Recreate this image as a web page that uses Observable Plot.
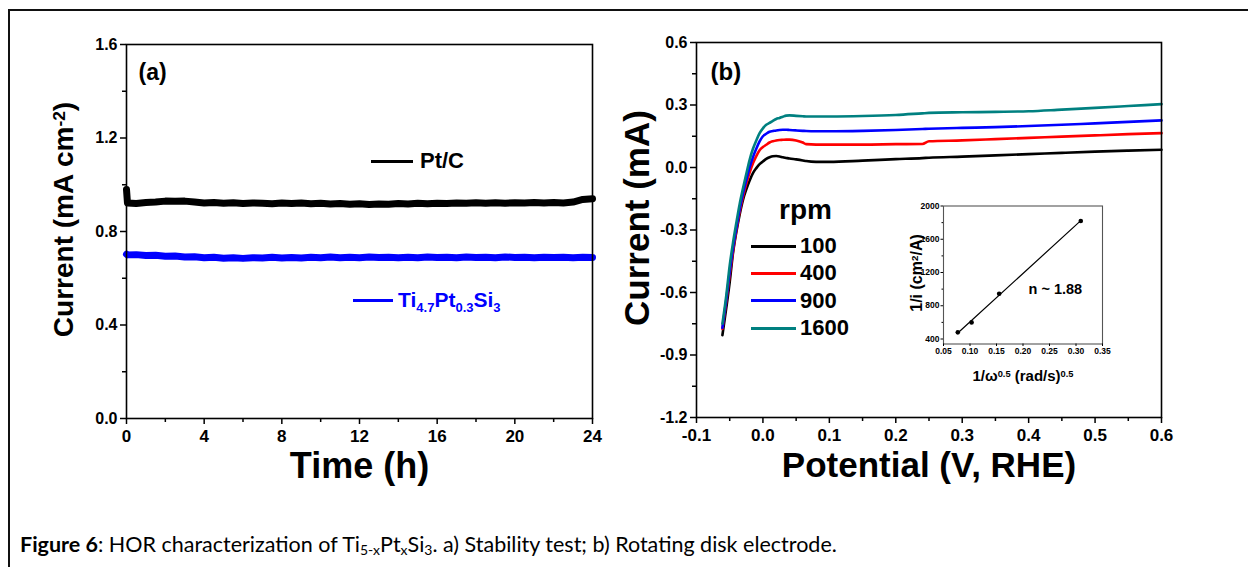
<!DOCTYPE html>
<html>
<head>
<meta charset="utf-8">
<script src="https://cdn.jsdelivr.net/npm/d3@7"></script>
<script src="https://cdn.jsdelivr.net/npm/@observablehq/plot@0.6"></script>
<style>
  body { margin: 0; background: #fff; }
  #fig { position: relative; width: 1248px; height: 567px; overflow: hidden; background: #fff;
         font-family: "Liberation Sans", Arial, sans-serif; }
  .abs { position: absolute; }
  .bt { left: 8px; top: 9px; width: 1240px; height: 2px; background: #111; }
  .bl { left: 8px; top: 9px; width: 2px; height: 560px; background: #111; }
  .leg { position: absolute; display: flex; align-items: center; font-weight: bold; white-space: nowrap; transform: translateY(-50%); }
  .sw { display: inline-block; height: 3px; margin-right: 5px; }
  .leg sub { font-size: 62%; vertical-align: -0.35em; line-height: 0; }
  #caption { position: absolute; left: 20px; top: 531px; font-family: Lato, "Open Sans", sans-serif; font-size: 21.5px; color: #000; white-space: nowrap; }
  #caption sub { font-size: 65%; vertical-align: -0.25em; line-height: 0; }
</style>
</head>
<body>
<div id="fig">
  <div class="abs bt"></div>
  <div class="abs bl"></div>
  <div id="pa" class="abs" style="left:0;top:0"></div>
  <div id="pb" class="abs" style="left:600px;top:0"></div>
  <div id="pi" class="abs" style="left:880px;top:190px"></div>
  <div id="legA"></div>
  <div id="legB"></div>
  <div id="caption"><b>Figure 6</b>: HOR characterization of Ti<sub>5-x</sub>Pt<sub>x</sub>Si<sub>3</sub>. a) Stability test; b) Rotating disk electrode.</div>
</div>
<script>
// ---------------- Panel (a): stability test ----------------
const timeH = [0, 0.05, 0.5, 1, 1.5, 2, 2.5, 3, 3.5, 4, 4.5, 5, 5.5, 6, 6.5, 7, 7.5, 8, 8.5, 9, 9.5, 10, 10.5, 11, 11.5, 12,
  12.5, 13, 13.5, 14, 14.5, 15, 15.5, 16, 16.5, 17, 17.5, 18, 18.5, 19, 19.5, 20, 20.5, 21, 21.5, 22, 22.5, 23, 23.5, 24];
const ptcCurrent = [0.98, 0.922, 0.92, 0.924, 0.926, 0.93, 0.929, 0.93, 0.926, 0.922, 0.924, 0.921, 0.923, 0.92, 0.922,
  0.921, 0.919, 0.922, 0.92, 0.922, 0.919, 0.921, 0.918, 0.92, 0.917, 0.919, 0.916, 0.918, 0.917, 0.92, 0.918, 0.921, 0.919,
  0.921, 0.92, 0.922, 0.921, 0.923, 0.921, 0.923, 0.921, 0.923, 0.922, 0.924, 0.922, 0.924, 0.922, 0.926, 0.937, 0.94];
const tiCurrent = [0.703, 0.70, 0.701, 0.697, 0.698, 0.694, 0.695, 0.691, 0.692, 0.688, 0.69, 0.686, 0.688, 0.685, 0.688,
  0.687, 0.69, 0.687, 0.689, 0.687, 0.69, 0.688, 0.691, 0.688, 0.69, 0.688, 0.691, 0.689, 0.69, 0.688, 0.69, 0.688, 0.691,
  0.689, 0.69, 0.688, 0.691, 0.689, 0.69, 0.688, 0.691, 0.689, 0.69, 0.688, 0.69, 0.689, 0.69, 0.688, 0.69, 0.689];
const seriesA = ["Pt/C", "Ti_{4.7}Pt_{0.3}Si_{3}"];
const colorsA = ["#000000", "#0000ff"];
const timeTicks = [0, 4, 8, 12, 16, 20, 24];
const timeMinor = [2, 6, 10, 14, 18, 22];
const curATicks = [0, 0.4, 0.8, 1.2, 1.6];
const curAMinor = [0.2, 0.6, 1.0, 1.4];

// ---------------- Panel (b): rotating disk electrode ----------------
const rpmLabels = ["100", "400", "900", "1600"];
const rpmColors = ["#000000", "#ff0000", "#0000ff", "#008080"];
const potential = [-0.061, -0.055, -0.05, -0.045, -0.04, -0.035, -0.03, -0.025, -0.02, -0.015, -0.01, -0.005, 0, 0.005,
  0.01, 0.015, 0.02, 0.025, 0.03, 0.035, 0.04, 0.05, 0.06, 0.065, 0.08, 0.1, 0.15, 0.2, 0.24, 0.25, 0.3, 0.35, 0.4, 0.45,
  0.5, 0.55, 0.6];
const current100 = [-0.805, -0.67, -0.55, -0.41, -0.31, -0.225, -0.155, -0.105, -0.063, -0.027, -0.003, 0.016, 0.029,
  0.041, 0.049, 0.054, 0.055, 0.053, 0.049, 0.046, 0.043, 0.039, 0.034, 0.031, 0.027, 0.027, 0.033, 0.04, 0.045, 0.047,
  0.052, 0.058, 0.064, 0.07, 0.076, 0.081, 0.085];
const current400 = [-0.775, -0.64, -0.515, -0.4, -0.3, -0.212, -0.14, -0.078, -0.025, 0.02, 0.055, 0.083, 0.098, 0.109,
  0.12, 0.126, 0.13, 0.132, 0.133, 0.134, 0.134, 0.13, 0.12, 0.112, 0.11, 0.11, 0.11, 0.112, 0.113, 0.126, 0.13, 0.136,
  0.142, 0.148, 0.154, 0.16, 0.165];
const current900 = [-0.77, -0.63, -0.5, -0.385, -0.29, -0.2, -0.125, -0.06, 0.0, 0.05, 0.09, 0.125, 0.15, 0.162, 0.172,
  0.175, 0.178, 0.18, 0.181, 0.181, 0.18, 0.178, 0.176, 0.175, 0.174, 0.174, 0.176, 0.18, 0.185, 0.186, 0.19, 0.194,
  0.199, 0.205, 0.212, 0.219, 0.226];
const current1600 = [-0.75, -0.61, -0.47, -0.36, -0.265, -0.175, -0.1, -0.03, 0.037, 0.09, 0.13, 0.165, 0.188, 0.205,
  0.214, 0.224, 0.233, 0.238, 0.244, 0.249, 0.25, 0.248, 0.246, 0.245, 0.245, 0.245, 0.247, 0.252, 0.26, 0.262, 0.265,
  0.267, 0.27, 0.278, 0.286, 0.295, 0.304];
const potTicks = [-0.1, 0, 0.1, 0.2, 0.3, 0.4, 0.5, 0.6];
const potMinor = [-0.05, 0.05, 0.15, 0.25, 0.35, 0.45, 0.55];
const curBTicks = [-1.2, -0.9, -0.6, -0.3, 0, 0.3, 0.6];
const curBMinor = [-1.05, -0.75, -0.45, -0.15, 0.15, 0.45];

// ---------------- Inset: Koutecky-Levich ----------------
const invOmega = [0.077, 0.103, 0.155, 0.309];
const invCurrent = [480, 600, 945, 1820];
const invOmegaTicks = [0.05, 0.10, 0.15, 0.20, 0.25, 0.30, 0.35];
const invCurTicks = [400, 800, 1200, 1600, 2000];
const invCurMinor = [600, 1000, 1400, 1800];
const nLabel = "n ~ 1.88";

// ------------- helpers -------------
const fmt = (k) => (d) => (d < 0 ? "-" : "") + Math.abs(d).toFixed(k);
function rich(svg) {
  d3.select(svg).selectAll("text").each(function () {
    const t = this.textContent;
    if (!/[\^_]\{/.test(t)) return;
    const parts = t.split(/([\^_]\{[^}]*\})/);
    const sel = d3.select(this);
    sel.text(null);
    for (const p of parts) {
      if (!p) continue;
      const m = p.match(/^([\^_])\{(.*)\}$/);
      if (m) sel.append("tspan").attr("font-size", "62%").attr("baseline-shift", m[1] === "^" ? "45%" : "-25%").text(m[2]);
      else sel.append("tspan").text(p);
    }
  });
  return svg;
}
const baseStyle = {fontFamily: "Liberation Sans, Arial, sans-serif", fontWeight: "bold", color: "#000", background: "transparent", overflow: "visible"};

// ------------- panel (a) -------------
const dataA = [];
timeH.forEach((t, i) => { dataA.push({t, c: ptcCurrent[i], s: seriesA[0]}); dataA.push({t, c: tiCurrent[i], s: seriesA[1]}); });
const plotA = Plot.plot({
  width: 620, height: 490, marginLeft: 126, marginRight: 28, marginTop: 44, marginBottom: 72,
  style: baseStyle,
  x: {domain: [0, 24], label: null},
  y: {domain: [0, 1.6], label: null},
  color: {domain: seriesA, range: colorsA},
  marks: [
    Plot.line(dataA, {x: "t", y: "c", z: "s", stroke: "s", strokeWidth: 7, curve: "linear"}),
    Plot.frame({strokeWidth: 1.6}),
    Plot.axisX(timeTicks, {tickSize: 6, tickPadding: 5, strokeWidth: 1.5, fontSize: 17, fontWeight: "bold", tickFormat: (d) => String(d), label: null}),
    Plot.axisX(timeMinor, {tickSize: 4, strokeWidth: 1.5, tickFormat: () => "", label: null}),
    Plot.axisY(curATicks, {tickSize: 6, tickPadding: 3, strokeWidth: 1.5, fontSize: 16, fontWeight: "bold", tickFormat: fmt(1), label: null}),
    Plot.axisY(curAMinor, {tickSize: 4, strokeWidth: 1.5, tickFormat: () => "", label: null}),
    Plot.text(["Time (h)"], {frameAnchor: "bottom", dy: 48, fontSize: 36, fontWeight: "bold", lineAnchor: "middle"}),
    Plot.text(["Current (mA cm^{-2})"], {frameAnchor: "left", dx: -62, dy: -12, rotate: -90, fontSize: 28, fontWeight: "bold", textAnchor: "middle", lineAnchor: "middle"}),
    Plot.text(["(a)"], {frameAnchor: "top-left", dx: 12, dy: 28, fontSize: 23, fontWeight: "bold", textAnchor: "start", lineAnchor: "middle"})
  ]
});
document.getElementById("pa").appendChild(rich(plotA));

// ------------- panel (b) -------------
const curveSets = [current100, current400, current900, current1600];
const dataB = [];
curveSets.forEach((arr, k) => arr.forEach((c, i) => dataB.push({v: potential[i], c, s: rpmLabels[k]})));
const plotB = Plot.plot({
  width: 648, height: 490, marginLeft: 96, marginRight: 87, marginTop: 42, marginBottom: 73,
  style: baseStyle,
  x: {domain: [-0.1, 0.6], label: null},
  y: {domain: [-1.2, 0.6], label: null},
  color: {domain: rpmLabels, range: rpmColors},
  marks: [
    Plot.line(dataB, {x: "v", y: "c", z: "s", stroke: "s", strokeWidth: 2.6, curve: "monotone-x"}),
    Plot.frame({strokeWidth: 1.6}),
    Plot.axisX(potTicks, {tickSize: 6, tickPadding: 5, strokeWidth: 1.5, fontSize: 17, fontWeight: "bold", tickFormat: fmt(1), label: null}),
    Plot.axisX(potMinor, {tickSize: 4, strokeWidth: 1.5, tickFormat: () => "", label: null}),
    Plot.axisY(curBTicks, {tickSize: 6, tickPadding: 3, strokeWidth: 1.5, fontSize: 16, fontWeight: "bold", tickFormat: fmt(1), label: null}),
    Plot.axisY(curBMinor, {tickSize: 4, strokeWidth: 1.5, tickFormat: () => "", label: null}),
    Plot.text(["Potential (V, RHE)"], {frameAnchor: "bottom", dy: 48, fontSize: 35, fontWeight: "bold", lineAnchor: "middle"}),
    Plot.text(["Current (mA)"], {frameAnchor: "left", dx: -59, dy: -12, rotate: -90, fontSize: 35, fontWeight: "bold", textAnchor: "middle", lineAnchor: "middle"}),
    Plot.text(["(b)"], {frameAnchor: "top-left", dx: 14, dy: 30, fontSize: 24, fontWeight: "bold", textAnchor: "start", lineAnchor: "middle"})
  ]
});
document.getElementById("pb").appendChild(plotB);

// ------------- inset -------------
const dataI = invOmega.map((x, i) => ({x, y: invCurrent[i]}));
const plotI = Plot.plot({
  width: 260, height: 200, marginLeft: 63, marginRight: 38, marginTop: 15.5, marginBottom: 46.5,
  style: baseStyle,
  x: {domain: [0.05, 0.35], label: null},
  y: {domain: [340, 2000], label: null},
  marks: [
    Plot.linearRegressionY(dataI, {x: "x", y: "y", stroke: "#000", strokeWidth: 1.2, ci: 0}),
    Plot.dot(dataI, {x: "x", y: "y", r: 2.3, fill: "#000"}),
    Plot.frame({strokeWidth: 1.1, stroke: "#555"}),
    Plot.axisX(invOmegaTicks, {tickSize: 2.5, tickPadding: 1.5, strokeWidth: 1, fontSize: 8.5, fontWeight: "bold", tickFormat: (d) => d.toFixed(2), label: null}),
    Plot.axisY(invCurTicks, {tickSize: 2.5, tickPadding: 1.5, strokeWidth: 1, fontSize: 8.5, fontWeight: "bold", tickFormat: (d) => String(d), label: null}),
    Plot.axisY(invCurMinor, {tickSize: 1.5, strokeWidth: 1, tickFormat: () => "", label: null}),
    Plot.text([nLabel], {frameAnchor: "top-left", dx: 85, dy: 83, fontSize: 14.5, fontWeight: "bold", textAnchor: "start", lineAnchor: "middle"}),
    Plot.text(["1/i (cm^{2}/A)"], {frameAnchor: "left", dx: -27, dy: -2, rotate: -90, fontSize: 16, fontWeight: "bold", textAnchor: "middle", lineAnchor: "middle"}),
    Plot.text(["1/ω^{0.5} (rad/s)^{0.5}"], {frameAnchor: "bottom", dy: 32, fontSize: 15, fontWeight: "bold", lineAnchor: "middle"})
  ]
});
document.getElementById("pi").appendChild(rich(plotI));

// ------------- legends (HTML) -------------
function legendItem(parent, left, top, color, width, html, fontSize, gap, textColor) {
  const d = document.createElement("div");
  d.className = "leg";
  d.style.left = left + "px"; d.style.top = top + "px"; d.style.fontSize = fontSize + "px";
  d.innerHTML = `<span class="sw" style="width:${width}px;background:${color};margin-right:${gap}px"></span><span style="color:${textColor}">${html}</span>`;
  parent.appendChild(d);
}
const toHtml = (s) => s.replace(/_\{([^}]*)\}/g, "<sub>$1</sub>");
const legA = document.getElementById("legA");
legendItem(legA, 371, 161, colorsA[0], 42, toHtml(seriesA[0]), 22, 7, "#000");
legendItem(legA, 353, 300, colorsA[1], 40, toHtml(seriesA[1]), 21, 5, colorsA[1]);

const legB = document.getElementById("legB");
const rpmTitle = document.createElement("div");
rpmTitle.className = "leg"; rpmTitle.style.left = "779px"; rpmTitle.style.top = "210px"; rpmTitle.style.fontSize = "28px";
rpmTitle.textContent = "rpm";
legB.appendChild(rpmTitle);
const legY = [246, 273, 300.5, 328];
rpmLabels.forEach((r, i) => legendItem(legB, 751, legY[i], rpmColors[i], 45, r, 22, 4, "#000"));
</script>
</body>
</html>
